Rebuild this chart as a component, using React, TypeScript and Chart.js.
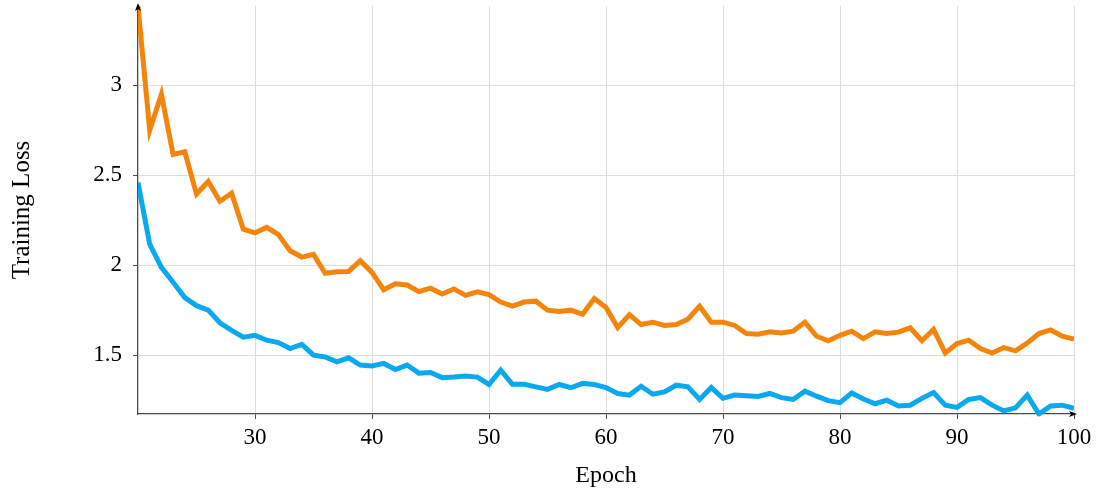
import React, { useEffect, useRef } from "react";
import { Chart, registerables } from "chart.js";

Chart.register(...registerables);

const epochs: number[] = [];
for (let e = 20; e <= 100; e++) epochs.push(e);

const orangeLoss: number[] = [
  3.44, 2.75, 2.95, 2.615, 2.63, 2.395, 2.465, 2.355, 2.4, 2.2,
  2.18, 2.21, 2.17, 2.08, 2.045, 2.06, 1.955, 1.963, 1.965, 2.025,
  1.96, 1.863, 1.896, 1.89, 1.853, 1.872, 1.84, 1.868, 1.832, 1.852,
  1.836, 1.795, 1.772, 1.795, 1.8, 1.75, 1.742, 1.75, 1.727, 1.815,
  1.765, 1.653, 1.725, 1.67, 1.683, 1.665, 1.67, 1.7, 1.772, 1.683,
  1.683, 1.665, 1.62, 1.616, 1.63, 1.623, 1.633, 1.683, 1.605, 1.58,
  1.61, 1.633, 1.592, 1.63, 1.62, 1.628, 1.652, 1.58, 1.643, 1.512,
  1.564, 1.583, 1.537, 1.512, 1.542, 1.524, 1.567, 1.62, 1.64, 1.605,
  1.589,
];

const blueLoss: number[] = [
  2.459, 2.117, 1.988, 1.905, 1.82, 1.775, 1.75, 1.68, 1.638, 1.6,
  1.61, 1.583, 1.57, 1.537, 1.56, 1.5, 1.49, 1.463, 1.485, 1.445,
  1.44, 1.454, 1.42, 1.445, 1.4, 1.404, 1.375, 1.378, 1.384, 1.378,
  1.337, 1.416, 1.338, 1.338, 1.324, 1.31, 1.337, 1.319, 1.343, 1.337,
  1.32, 1.287, 1.278, 1.327, 1.283, 1.296, 1.333, 1.324, 1.254, 1.32,
  1.26, 1.278, 1.275, 1.27, 1.287, 1.264, 1.254, 1.3, 1.272, 1.247,
  1.236, 1.29, 1.256, 1.23, 1.25, 1.218, 1.222, 1.26, 1.292, 1.222,
  1.21, 1.254, 1.264, 1.222, 1.19, 1.207, 1.278, 1.173, 1.218, 1.222,
  1.204,
];

const xTicks: number[] = [30, 40, 50, 60, 70, 80, 90, 100];
const yTicks: number[] = [1.5, 2, 2.5, 3];

const ORANGE = "#F5850A";
const BLUE = "#0AA8F0";
const AXIS = "#4a4a4a";
const GRID = "#dddddd";
const FONT = "'Liberation Serif', 'Times New Roman', serif";

const arrowPlugin = {
  id: "axisArrows",
  afterDraw(chart: any) {
    const { ctx, chartArea } = chart;
    const { left, right, top, bottom } = chartArea;
    ctx.save();
    ctx.fillStyle = "#000";
    ctx.beginPath();
    ctx.moveTo(left, top - 3);
    ctx.lineTo(left - 3, top + 5);
    ctx.lineTo(left, top + 3);
    ctx.lineTo(left + 3, top + 5);
    ctx.closePath();
    ctx.fill();
    ctx.beginPath();
    ctx.moveTo(right + 3, bottom);
    ctx.lineTo(right - 5, bottom - 3);
    ctx.lineTo(right - 3, bottom);
    ctx.lineTo(right - 5, bottom + 3);
    ctx.closePath();
    ctx.fill();
    ctx.restore();
  },
};

export default function App() {
  const ref = useRef<HTMLCanvasElement>(null);

  useEffect(() => {
    if (!ref.current) return;
    const chart = new Chart(ref.current, {
      type: "line",
      data: {
        labels: epochs,
        datasets: [
          {
            label: "orange",
            data: epochs.map((e, i) => ({ x: e, y: orangeLoss[i] })),
            borderColor: ORANGE,
            borderWidth: 5,
            pointRadius: 0,
            tension: 0,
            fill: false,
          },
          {
            label: "blue",
            data: epochs.map((e, i) => ({ x: e, y: blueLoss[i] })),
            borderColor: BLUE,
            borderWidth: 5,
            pointRadius: 0,
            tension: 0,
            fill: false,
          },
        ],
      },
      options: {
        animation: false,
        responsive: true,
        maintainAspectRatio: false,
        layout: { padding: { left: 0, right: 23, top: 6, bottom: 0 } },
        plugins: { legend: { display: false }, tooltip: { enabled: false } },
        scales: {
          x: {
            type: "linear",
            min: 20,
            max: 100,
            afterBuildTicks: (s: any) => {
              s.ticks = xTicks.map((v) => ({ value: v }));
            },
            afterFit: (s: any) => {
              s.height = 76;
              s.paddingLeft = 0;
              s.paddingRight = 0;
            },
            grid: {
              color: GRID,
              lineWidth: 1,
              tickLength: 5,
              tickColor: AXIS,
            },
            border: { display: true, color: AXIS, width: 1.3 },
            ticks: {
              color: "#000",
              padding: 5,
              font: { family: FONT, size: 23 },
              maxRotation: 0,
              autoSkip: false,
              callback: (v: any) => String(v),
            },
            title: {
              display: true,
              text: "Epoch",
              color: "#000",
              font: { family: FONT, size: 24 },
              padding: { top: 0, bottom: 0 },
            },
          },
          y: {
            type: "linear",
            bounds: "data",
            afterBuildTicks: (s: any) => {
              s.ticks = yTicks.map((v) => ({ value: v }));
            },
            afterFit: (s: any) => {
              s.width = 138;
              s.paddingTop = 0;
              s.paddingBottom = 0;
            },
            grid: {
              color: GRID,
              lineWidth: 1,
              tickLength: 5,
              tickColor: AXIS,
            },
            border: { display: true, color: AXIS, width: 1.3 },
            ticks: {
              color: "#000",
              padding: 11,
              font: { family: FONT, size: 23 },
              autoSkip: false,
              callback: (v: any) => String(v),
            },
            title: {
              display: true,
              text: "Training Loss",
              color: "#000",
              font: { family: FONT, size: 25 },
              padding: { top: 7, bottom: 0 },
            },
          },
        },
      },
      plugins: [arrowPlugin],
    });
    return () => chart.destroy();
  }, []);

  return (
    <div style={{ position: "absolute", left: 0, top: 0, width: 1097, height: 490, background: "#fff" }}>
      <canvas ref={ref} />
    </div>
  );
}
